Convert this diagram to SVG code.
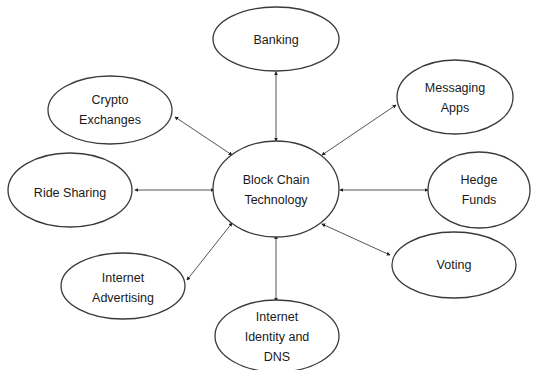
<svg xmlns="http://www.w3.org/2000/svg" width="539" height="370" viewBox="0 0 539 370">
  <defs>
    <style>
      .node ellipse { fill: #ffffff; stroke: #3a3a3a; stroke-width: 1.3; }
      .node text { font-family: "Liberation Sans", Arial, sans-serif; font-size: 12.5px; fill: #1a1a1a; text-anchor: middle; }
      .edge { stroke: #555555; stroke-width: 1; fill: none; marker-start: url(#tip); marker-end: url(#tip); }
    </style>
    <!-- small filled arrowhead used at both ends of every connector -->
    <marker id="tip" viewBox="0 0 6 6" refX="5" refY="3" markerWidth="4" markerHeight="4" orient="auto-start-reverse" markerUnits="userSpaceOnUse">
      <path d="M0,0 L6,3 L0,6 z" fill="#222222"/>
    </marker>
  </defs>
  <rect width="539" height="370" fill="#ffffff"/>

  <!-- connectors between the hub and each application -->
  <g id="connectors">
    <line class="edge" x1="276" y1="72" x2="276" y2="141"/>
    <line class="edge" x1="396" y1="105" x2="322" y2="155"/>
    <line class="edge" x1="340" y1="190" x2="428" y2="190"/>
    <line class="edge" x1="322" y1="224" x2="390" y2="255"/>
    <line class="edge" x1="276" y1="236" x2="276" y2="301"/>
    <line class="edge" x1="232" y1="223" x2="187" y2="280"/>
    <line class="edge" x1="135" y1="190" x2="214" y2="190"/>
    <line class="edge" x1="175" y1="117" x2="232" y2="155"/>
  </g>

  <g id="hub" class="node">
    <ellipse cx="276" cy="189" rx="63" ry="48"/>
    <text x="276" y="184">Block Chain</text>
    <text x="276" y="204">Technology</text>
  </g>

  <g id="banking" class="node">
    <ellipse cx="276" cy="39" rx="63" ry="32"/>
    <text x="276" y="44">Banking</text>
  </g>

  <g id="messaging-apps" class="node">
    <ellipse cx="455" cy="97" rx="58" ry="37"/>
    <text x="455" y="92">Messaging</text>
    <text x="455" y="112">Apps</text>
  </g>

  <g id="hedge-funds" class="node">
    <ellipse cx="479" cy="190" rx="51" ry="38"/>
    <text x="479" y="184">Hedge</text>
    <text x="479" y="204">Funds</text>
  </g>

  <g id="voting" class="node">
    <ellipse cx="454" cy="265" rx="62" ry="33"/>
    <text x="454" y="269">Voting</text>
  </g>

  <g id="internet-identity" class="node">
    <ellipse cx="277" cy="336" rx="62" ry="36"/>
    <text x="277" y="321">Internet</text>
    <text x="277" y="341">Identity and</text>
    <text x="277" y="361">DNS</text>
  </g>

  <g id="internet-advertising" class="node">
    <ellipse cx="123" cy="286" rx="62" ry="33"/>
    <text x="123" y="282">Internet</text>
    <text x="123" y="302">Advertising</text>
  </g>

  <g id="ride-sharing" class="node">
    <ellipse cx="70" cy="190" rx="62" ry="37"/>
    <text x="70" y="197">Ride Sharing</text>
  </g>

  <g id="crypto-exchanges" class="node">
    <ellipse cx="110" cy="110" rx="62" ry="34"/>
    <text x="110" y="104">Crypto</text>
    <text x="110" y="124">Exchanges</text>
  </g>
</svg>
